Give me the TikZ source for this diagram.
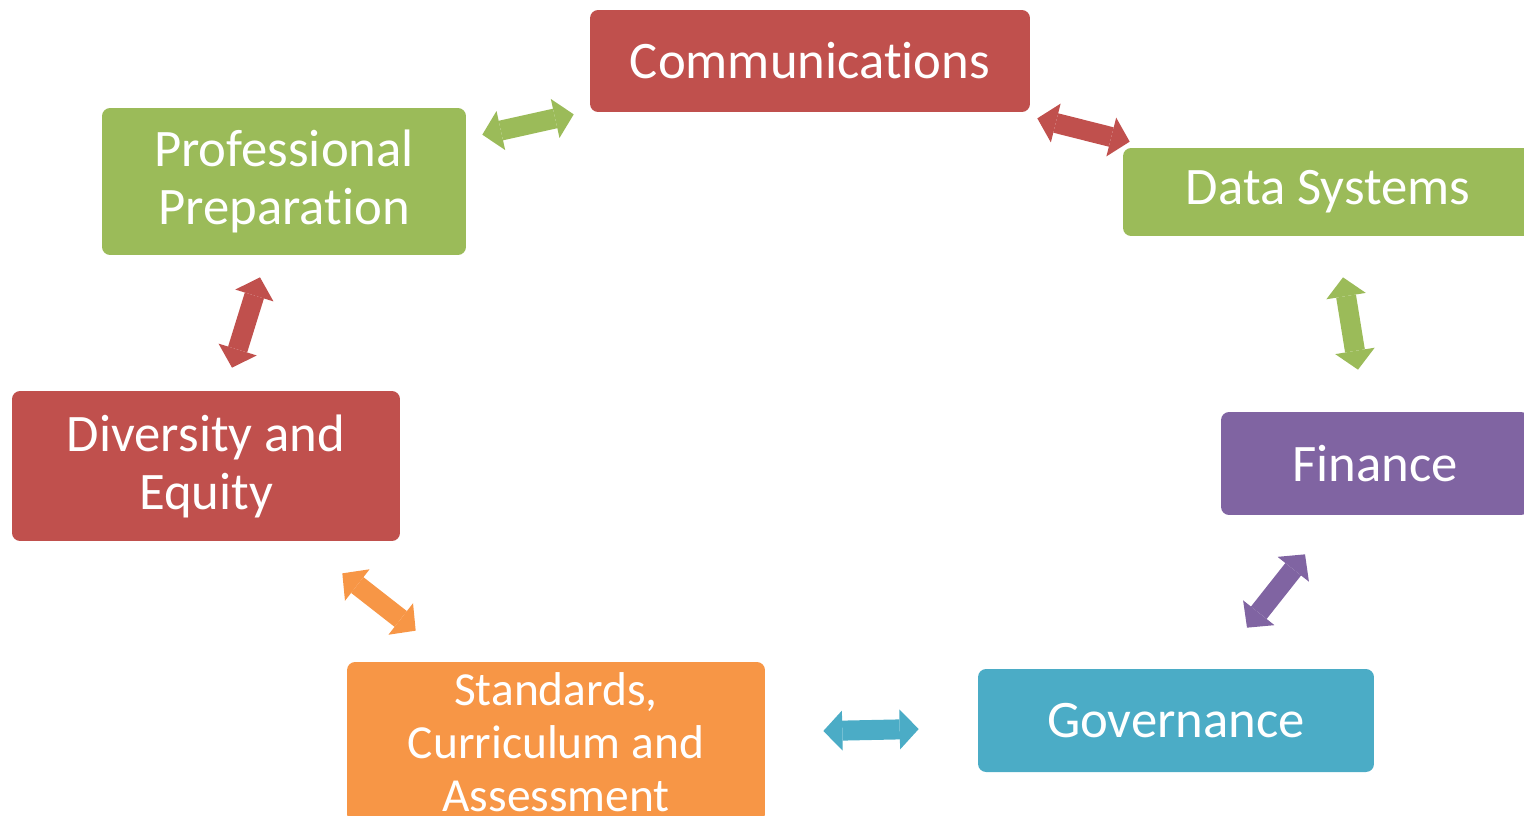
\documentclass[tikz,border=0pt]{standalone}
\usepackage{fontspec}
\setmainfont{Carlito}[Ligatures=NoCommon]
\usetikzlibrary{arrows.meta}

\definecolor{boxred}{HTML}{C0504D}
\definecolor{boxgreen}{HTML}{9BBB59}
\definecolor{boxpurple}{HTML}{8064A2}
\definecolor{boxteal}{HTML}{4BACC6}
\definecolor{boxorange}{HTML}{F79646}

\begin{document}
\begin{tikzpicture}[
        x=0.02cm, y=-0.02cm,
        box/.style={rectangle, rounded corners=0.16cm, inner sep=0pt, align=center, text=white,
            font=\fontsize{30}{33}\selectfont},
        link/.style={line width=0.4cm, draw=#1,
            {Triangle[width=0.8cm,length=0.38cm,line width=0pt]}-{Triangle[width=0.8cm,length=0.38cm,line width=0pt]}}
    ]
        \clip (0,0) rectangle (1524,815);

        % the seven boxes round the ring
        \node[box, fill=boxred, minimum width=8.8cm, minimum height=2.04cm] (comm) at (810,61) {Communications};
        \node[box, fill=boxgreen, minimum width=7.28cm, minimum height=2.94cm] (prep) at (284,181.5) {Professional\\Preparation};
        \node[box, fill=boxgreen, minimum width=8.2cm, minimum height=1.76cm] (data) at (1328,192) {Data Systems};
        \node[box, fill=boxpurple, minimum width=6.16cm, minimum height=2.06cm] (fin) at (1375,463.5) {Finance};
        \node[box, fill=boxteal, minimum width=7.92cm, minimum height=2.06cm] (gov) at (1176,720.5) {Governance};
        \node[box, fill=boxorange, minimum width=8.36cm, minimum height=3.2cm,
            font=\fontsize{27}{30}\selectfont] (std) at (556,742) {Standards,\\Curriculum and\\Assessment};
        \node[box, fill=boxred, minimum width=7.76cm, minimum height=3cm] (div) at (206,466) {Diversity and\\Equity};

        % double arrows between neighbours
        \draw[link=boxgreen] ([shift={(16,27)}]prep.north east) -- ([shift={(-16,2)}]comm.south west);
        \draw[link=boxred] ([shift={(7,6)}]comm.south east) -- ([shift={(7,-6)}]data.north west);
        \draw[link=boxgreen] ([shift={(15,41)}]data.south) -- ([shift={(-17,-42)}]fin.north);
        \draw[link=boxpurple] ([shift={(-70,39)}]fin.south) -- ([shift={(71,-41)}]gov.north);
        \draw[link=boxteal] ([shift={(-59,8.5)}]gov.west) -- ([shift={(58,-11)}]std.east);
        \draw[link=boxorange] ([shift={(69,-31)}]std.north west) -- ([shift={(-58,32)}]div.south east);
        \draw[link=boxred] ([shift={(26,-23)}]div.north) -- ([shift={(-24,22)}]prep.south);
    \end{tikzpicture}
\end{document}
